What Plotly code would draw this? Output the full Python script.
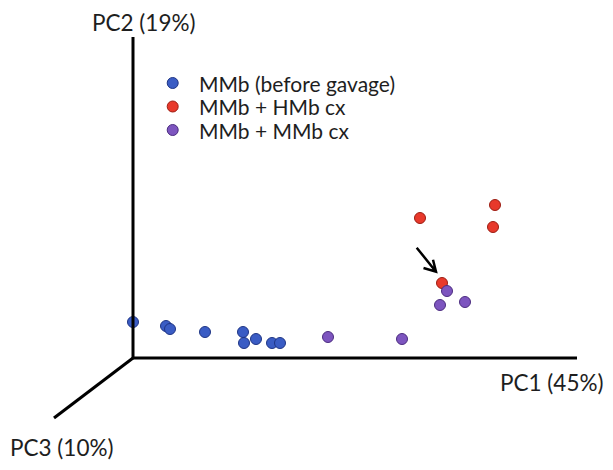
import plotly.graph_objects as go

# PCA scores (units: arbitrary, origin at axis intersection)
blue_pc1 = [0, 33, 37, 72, 110, 111, 123, 139, 147]
blue_pc2 = [36, 32, 29, 26, 26, 15, 19, 15, 15]
red_pc1 = [287, 362, 360, 309]
red_pc2 = [140, 153, 131, 75]
purple_pc1 = [314, 307, 332, 195, 269]
purple_pc2 = [67, 53, 56, 21, 19]

series_names = ["MMb (before gavage)", "MMb + HMb cx", "MMb + MMb cx"]
series_colors = ["#3a5cc4", "#e8392b", "#7d55bf"]
series_edges = ["#1f3585", "#9c1d12", "#4c2d80"]
series_x = [blue_pc1, red_pc1, purple_pc1]
series_y = [blue_pc2, red_pc2, purple_pc2]

FONT = "Lato"
fig = go.Figure()
for name, xs, ys, col, edge in zip(series_names, series_x, series_y, series_colors, series_edges):
    fig.add_trace(go.Scatter(
        x=xs, y=ys, mode="markers", name=name, showlegend=False,
        marker=dict(size=11, color=col, line=dict(color=edge, width=1)),
    ))

line = dict(color="black", width=3)
fig.add_shape(type="line", x0=0, y0=0, x1=0, y1=321, line=line)
fig.add_shape(type="line", x0=0, y0=0, x1=444, y1=0, line=line)
fig.add_shape(type="line", x0=0, y0=0, x1=-79, y1=-60, line=line)

# arrow (pixel-space geometry converted to axis units)
def pt(px, py):
    return px - 133, 358 - py
tail = pt(416.7, 247.7)
tip = pt(436, 271.7)
h1 = pt(433.0, 259.7)
h2 = pt(423.5, 268.0)
path = (f"M {tail[0]},{tail[1]} L {tip[0]},{tip[1]} "
        f"M {h1[0]},{h1[1]} L {tip[0]},{tip[1]} L {h2[0]},{h2[1]}")
fig.add_shape(type="path", path=path, line=dict(color="black", width=2.5))

lab = dict(size=22.5, color="#1e1e1e", family=FONT)
fig.add_annotation(x=11, y=336, text="PC2 (19%)", showarrow=False, font=lab,
                   xanchor="center", yanchor="middle", borderpad=0)
fig.add_annotation(x=418.5, y=-24, text="PC1 (45%)", showarrow=False, font=lab, xanchor="center", yanchor="middle")
fig.add_annotation(x=-71.5, y=-89, text="PC3 (10%)", showarrow=False, font=lab, xanchor="center", yanchor="middle")

# custom legend (tight line spacing as in the original)
LEG_KEY_X, LEG_TEXT_X, LEG_Y0, LEG_DY, R = 39.7, 67, 275, 23.5, 5.5
for i, (name, col, edge) in enumerate(zip(series_names, series_colors, series_edges)):
    yc = LEG_Y0 - i * LEG_DY
    fig.add_shape(type="circle", x0=LEG_KEY_X - R, x1=LEG_KEY_X + R, y0=yc - R, y1=yc + R,
                  fillcolor=col, line=dict(color=edge, width=1))
    fig.add_annotation(x=LEG_TEXT_X, y=yc, text=name, showarrow=False,
                       font=dict(size=21, color="#1e1e1e", family=FONT),
                       xanchor="left", yanchor="middle", xshift=-3)

fig.update_layout(
    width=613, height=470,
    margin=dict(l=0, r=0, t=0, b=0),
    paper_bgcolor="white", plot_bgcolor="white",
    xaxis=dict(range=[-125, 488], visible=False, fixedrange=True),
    yaxis=dict(range=[-120, 350], visible=False, fixedrange=True),
    showlegend=False,
)
fig.write_html("out.html")
